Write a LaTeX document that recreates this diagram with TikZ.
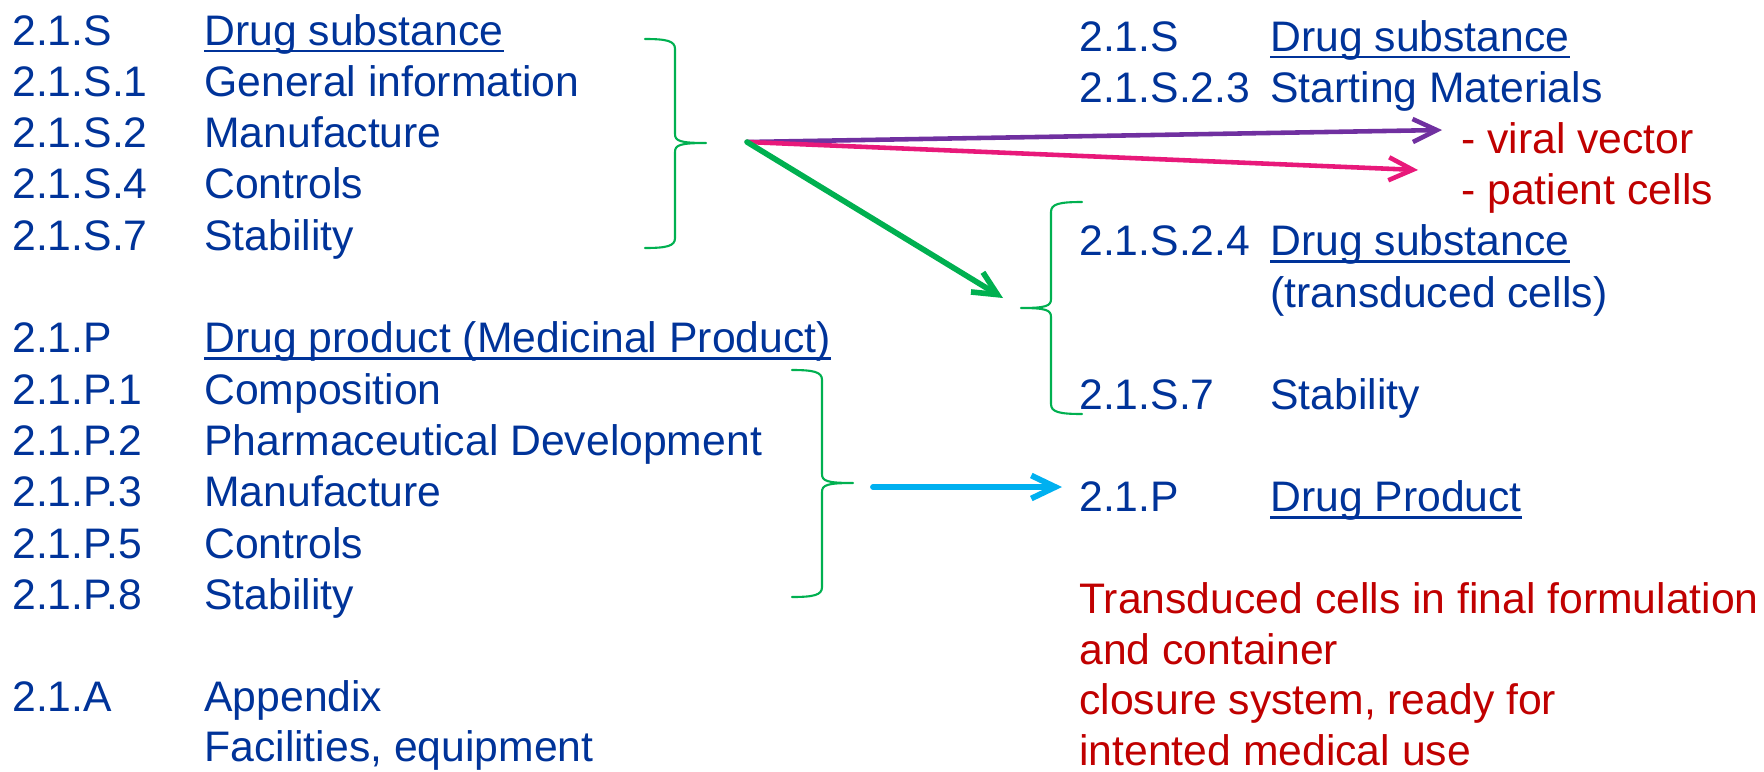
\documentclass[tikz,border=0pt]{standalone}
\usepackage{fontspec}
\setmainfont{Liberation Sans}
\usetikzlibrary{arrows.meta}

\definecolor{itemblue}{RGB}{0,51,153}
\definecolor{notered}{RGB}{192,0,0}
\definecolor{bracegreen}{RGB}{0,176,80}
\definecolor{linkpurple}{RGB}{112,48,160}
\definecolor{linkpink}{RGB}{232,25,122}
\definecolor{linkcyan}{RGB}{0,176,240}

\begin{document}
\begin{tikzpicture}[x=0.02cm,y=-0.02cm,
  item/.style={anchor=base west,inner sep=0pt,text=itemblue,font=\fontsize{24.3}{29}\selectfont},
  note/.style={item,text=notered},
  ul/.style={itemblue,line width=1.7pt},
  brace/.style={bracegreen,line width=1.2pt,line join=round,line cap=round},
  link/.style={line width=3pt,line cap=round,-{Straight Barb[length=0.48cm,width=0.46cm]}}]

  \useasboundingbox (0,0) rectangle (1764,771);

  % left column
  \node[item] (s)    at (12,45)    {2.1.S};
  \node[item] (st)   at (204,45)   {Drug substance};
  \node[item] (s1)   at (12,96.3)  {2.1.S.1};
  \node[item] (s1t)  at (204,96.3) {General information};
  \node[item] (s2)   at (12,147.6) {2.1.S.2};
  \node[item] (s2t)  at (204,147.6){Manufacture};
  \node[item] (s4)   at (12,198.9) {2.1.S.4};
  \node[item] (s4t)  at (204,198.9){Controls};
  \node[item] (s7)   at (12,250.2) {2.1.S.7};
  \node[item] (s7t)  at (204,250.2){Stability};

  \node[item] (p)    at (12,352.8) {2.1.P};
  \node[item] (pt)   at (204,352.8){Drug product (Medicinal Product)};
  \node[item] (p1)   at (12,404.1) {2.1.P.1};
  \node[item] (p1t)  at (204,404.1){Composition};
  \node[item] (p2)   at (12,455.4) {2.1.P.2};
  \node[item] (p2t)  at (204,455.4){Pharmaceutical Development};
  \node[item] (p3)   at (12,506.7) {2.1.P.3};
  \node[item] (p3t)  at (204,506.7){Manufacture};
  \node[item] (p5)   at (12,558)   {2.1.P.5};
  \node[item] (p5t)  at (204,558)  {Controls};
  \node[item] (p8)   at (12,609.3) {2.1.P.8};
  \node[item] (p8t)  at (204,609.3){Stability};

  \node[item] (a)    at (12,711.9) {2.1.A};
  \node[item] (at)   at (204,711.9){Appendix};
  \node[item] (at2)  at (204,761)  {Facilities, equipment};

  % right column
  \node[item] (rs)    at (1079,51)    {2.1.S};
  \node[item] (rst)   at (1270,51)    {Drug substance};
  \node[item] (rs23)  at (1079,102.2) {2.1.S.2.3};
  \node[item] (rs23t) at (1270,102.2) {Starting Materials};
  \node[note] (vv)    at (1461,153.4) {- viral vector};
  \node[note] (pc)    at (1461,204.6) {- patient cells};
  \node[item] (rs24)  at (1079,255.8) {2.1.S.2.4};
  \node[item] (rs24t) at (1270,255.8) {Drug substance};
  \node[item] (tc)    at (1270,307)   {(transduced cells)};
  \node[item] (rs7)   at (1079,409.4) {2.1.S.7};
  \node[item] (rs7t)  at (1270,409.4) {Stability};
  \node[item] (rp)    at (1079,511.8) {2.1.P};
  \node[item] (rpt)   at (1270,511.8) {Drug Product};

  \node[note] (fin1) at (1079,613) {Transduced cells in final formulation};
  \node[note] (fin2) at (1079,664) {and container};
  \node[note] (fin3) at (1079,714.5) {closure system, ready for};
  \node[note] (fin4) at (1079,765) {intented medical use};

  % underlines
  \draw[ul] ([yshift=-0.12cm]st.base west) -- ([yshift=-0.12cm]st.base east);
  \draw[ul] ([yshift=-0.12cm]pt.base west) -- ([yshift=-0.12cm]pt.base east);
  \draw[ul] ([yshift=-0.12cm]rst.base west) -- ([yshift=-0.12cm]rst.base east);
  \draw[ul] ([yshift=-0.12cm]rs24t.base west) -- ([yshift=-0.12cm]rs24t.base east);
  \draw[ul] ([yshift=-0.12cm]rpt.base west) -- ([yshift=-0.12cm]rpt.base east);

  % braces
  \draw[brace] (645,39) .. controls (667,39) and (675,41) .. (675,49) -- (675,134)
    .. controls (675,141) and (680,143) .. (706,143)
    .. controls (680,143) and (675,145) .. (675,152) -- (675,238)
    .. controls (675,246) and (667,248) .. (645,248);
  \draw[brace] (792,370) .. controls (814,370) and (822,372) .. (822,380) -- (822,474)
    .. controls (822,481) and (827,483) .. (853,483)
    .. controls (827,483) and (822,485) .. (822,492) -- (822,587)
    .. controls (822,595) and (814,597) .. (792,597);
  \draw[brace] (1082,202) .. controls (1059,202) and (1051,204) .. (1051,212) -- (1051,299)
    .. controls (1051,306) and (1046,308) .. (1021,308)
    .. controls (1046,308) and (1051,310) .. (1051,317) -- (1051,404)
    .. controls (1051,412) and (1059,414) .. (1082,414);

  \coordinate (s out) at (747,142);
  \coordinate (p out) at (873,487);
  \coordinate (vv in) at (1442,130);
  \coordinate (pc in) at (1418,170);
  \coordinate (ds in) at (1003,298);
  \coordinate (dp in) at (1062,487);

  \draw[link,linkpurple,line width=2.6pt] (s out) -- (vv in);
  \draw[link,linkpink,line width=2.6pt] (s out) -- (pc in);
  \draw[link,bracegreen,line width=3.2pt] (s out) -- (ds in);
  \draw[link,linkcyan,line width=3.3pt] (p out) -- (dp in);
\end{tikzpicture}
\end{document}
